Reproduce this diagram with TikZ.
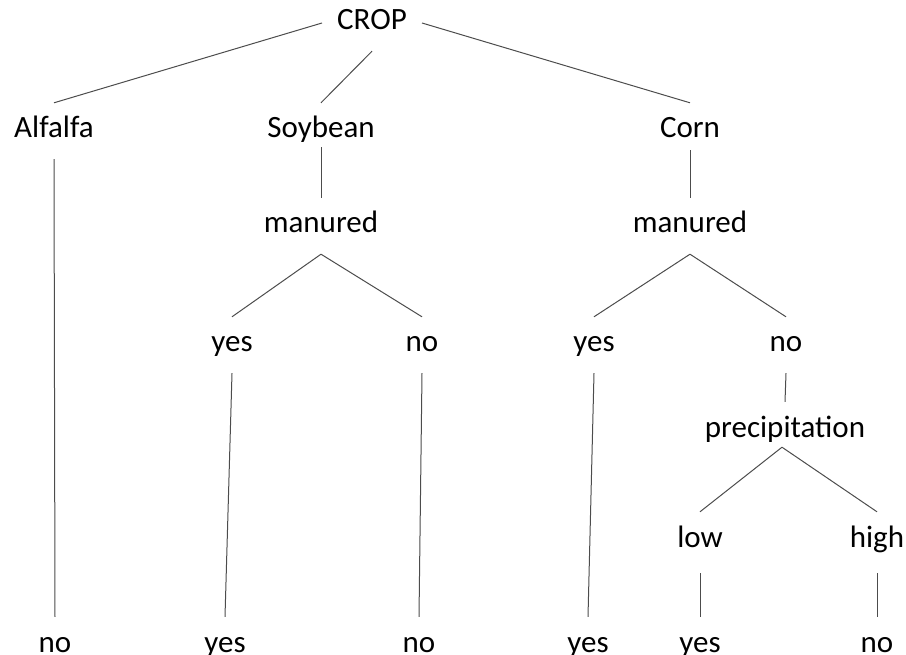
\documentclass[tikz,border=0pt]{standalone}
\usepackage{fontspec}
\setmainfont{Carlito}

\begin{document}
\begin{tikzpicture}[x=1pt, y=-1pt,
    lbl/.style={anchor=base, font=\fontsize{31}{37}\selectfont, text height=20pt, text depth=6pt, inner xsep=15pt, inner ysep=15pt},
    branch/.style={line width=1pt, black!70}]
    \useasboundingbox (0,0) rectangle (906,655);
    % first split
    \node (crop) [lbl] at (372,30) {CROP};
    \node (alfalfa) [lbl] at (54,138) {Alfalfa};
    \node (soybean) [lbl] at (321,138) {Soybean};
    \node (corn) [lbl] at (690,138) {Corn};
    % manured tests
    \node (smanured) [lbl] at (321,233) {manured};
    \node (cmanured) [lbl] at (690,233) {manured};
    \node (syes) [lbl] at (232,352) {yes};
    \node (sno) [lbl] at (422,352) {no};
    \node (cyes) [lbl] at (594,352) {yes};
    \node (cno) [lbl] at (786,352) {no};
    % precipitation test
    \node (precip) [lbl] at (785,437) {precipitation};
    \node (low) [lbl] at (700,547) {low};
    \node (high) [lbl] at (877,547) {high};
    % leaves
    \node (aleaf) [lbl] at (55,652) {no};
    \node (syleaf) [lbl] at (225,652) {yes};
    \node (snleaf) [lbl] at (419,652) {no};
    \node (cyleaf) [lbl] at (588,652) {yes};
    \node (lleaf) [lbl] at (700,652) {yes};
    \node (hleaf) [lbl] at (877,652) {no};

    \draw [branch] (crop.west) -- (alfalfa.north);
    \draw [branch] (crop.south) -- (soybean.north);
    \draw [branch] (crop.east) -- (corn.north);
    \draw [branch] (alfalfa.south) -- (aleaf.north);
    \draw [branch] ([yshift=12pt]soybean.south) -- (smanured.north);
    \draw [branch] ([yshift=9pt]corn.south) -- (cmanured.north);
    \draw [branch] (smanured.south) -- (syes.north);
    \draw [branch] (smanured.south) -- (sno.north);
    \draw [branch] (cmanured.south) -- (cyes.north);
    \draw [branch] (cmanured.south) -- (cno.north);
    \draw [branch] (syes.south) -- (syleaf.north);
    \draw [branch] (sno.south) -- (snleaf.north);
    \draw [branch] (cyes.south) -- (cyleaf.north);
    \draw [branch] (cno.south) -- (precip.north);
    \draw [branch] ([xshift=-3pt, yshift=11pt]precip.south) -- (low.north);
    \draw [branch] ([xshift=-3pt, yshift=11pt]precip.south) -- (high.north);
    \draw [branch, shorten <=5pt] (low.south) -- (lleaf.north);
    \draw [branch, shorten <=5pt] (high.south) -- (hleaf.north);
\end{tikzpicture}
\end{document}
